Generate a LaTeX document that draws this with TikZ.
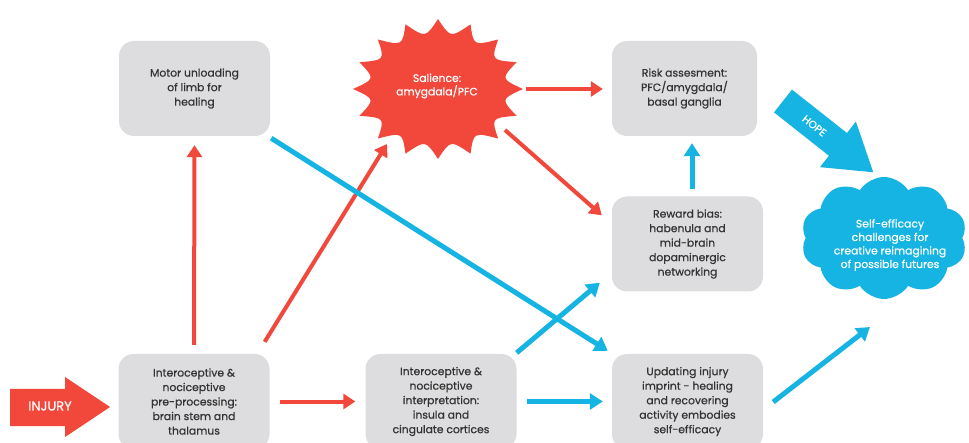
\documentclass[tikz,border=0pt]{standalone}
\usepackage{fontspec}
\setmainfont{Poppins}[FakeBold=0.6]
\usetikzlibrary{arrows.meta,calc,shapes.symbols}

\definecolor{alarm}{HTML}{F2483C}
\definecolor{calm}{HTML}{16B4E2}
\definecolor{boxgray}{HTML}{DDDDDF}
\definecolor{ink}{HTML}{333333}

\tikzset{
  stage/.style={fill=boxgray, rounded corners=15pt, minimum width=151pt,
    minimum height=95pt, align=center, text=ink, inner sep=0pt,
    font=\fontsize{10.8}{14.5}\selectfont},
  redlink/.style={draw=alarm, line width=4pt,
    -{Triangle[width=15pt,length=12pt]}},
  bluelink/.style={draw=calm, line width=5pt,
    -{Triangle[width=16pt,length=13pt]}},
  whitetext/.style={text=white, align=center, inner sep=0pt,
    font=\fontsize{10.8}{13.5}\selectfont}
}

\begin{document}
\begin{tikzpicture}[x=1pt, y=-1pt]
\clip (0,0) rectangle (969,443);
\fill[white] (0,0) rectangle (969,443);

% grey stages
\node[stage] (motor)  at (194.5,88.5) {Motor unloading\\of limb for\\healing};
\node[stage, minimum width=145pt] (risk) at (684.5,88.5) {Risk assesment:\\PFC/amygdala/\\basal ganglia};
\node[stage] (reward) at (687.5,244) {Reward bias:\\habenula and\\mid-brain\\dopaminergic\\networking};
\node[stage] (pre)    at (194,401.5) {Interoceptive \&\\nociceptive\\pre-processing:\\brain stem and\\thalamus};
\node[stage] (interp) at (441,401.5) {Interoceptive \&\\nociceptive\\interpretation:\\insula and\\cingulate cortices};
\node[stage] (upd)    at (687.5,401.5) {Updating injury\\imprint - healing\\and recovering\\activity embodies\\self-efficacy};

% salience starburst
\coordinate (sal) at (438,89);
\fill[alarm] ($(sal)+(0:85 and 70)$)
  \foreach \i in {1,...,16} {
    .. controls ($(sal)+({\i*22.5-11.25}:64 and 52)$) .. ($(sal)+({\i*22.5}:85 and 70)$)
  } -- cycle;
\node[whitetext] (saltext) at (437,86) {Salience:\\amygdala/PFC};

% self-efficacy cloud
\node[cloud, cloud puffs=10, cloud puff arc=115, aspect=1.4, fill=calm,
      minimum width=166pt, minimum height=122pt] (cloud) at (884,238) {};
\node[whitetext, font=\fontsize{10.8}{13.5}\selectfont] (cloudtext) at (890,245)
  {Self-efficacy\\challenges for\\creative reimagining\\of possible futures};

% injury input arrow
\fill[alarm] (10,389) -- (65,389) -- (65,377) -- (110,407) -- (65,437)
  -- (65,426) -- (10,426) -- cycle;
\node[text=white, inner sep=0pt, font=\fontsize{13}{14}\selectfont] (injury) at (50,406) {INJURY};

% hope arrow
\begin{scope}[shift={(783,101)}, rotate=-38.3]
  \fill[calm] (0,-14.5) -- (70,-14.5) -- (70,-29) -- (115,0) -- (70,29)
    -- (70,14.5) -- (0,14.5) -- cycle;
  \node[text=white, inner sep=0pt, rotate=-38.3, font=\fontsize{10.5}{11}\selectfont] (hope) at (40,0) {HOPE};
\end{scope}

% red pathways
\draw[redlink, shorten <=9pt, shorten >=9pt] (pre.north) -- (motor.south);
\draw[redlink] ($(pre.north east)+(-5,-12)$) -- ($(sal)+(-51,55)$);
\draw[redlink, shorten <=10pt, shorten >=10pt] (pre.east) -- (interp.west);
\draw[redlink] ($(sal)+(88,0)$) -- ($(risk.west)+(-9,0.5)$);
\draw[redlink] ($(sal)+(67,41)$) -- ($(reward.north west)+(-10,19)$);

% blue pathways
\draw[bluelink] ($(motor.south east)+(1,2)$) -- ($(upd.north west)+(-4,-3)$);
\draw[bluelink] ($(interp.north east)+(0,-1)$) -- ($(reward.south west)+(-12,-9)$);
\draw[bluelink, shorten <=10pt, shorten >=9pt] (interp.east) -- (upd.west);
\draw[bluelink] ($(reward.north)+(4.5,-7)$) -- ($(risk.south)+(7.5,7)$);
\draw[bluelink] ($(upd.east)+(10,0.5)$) -- ($(cloud.center)+(-14,89)$);
\end{tikzpicture}
\end{document}
